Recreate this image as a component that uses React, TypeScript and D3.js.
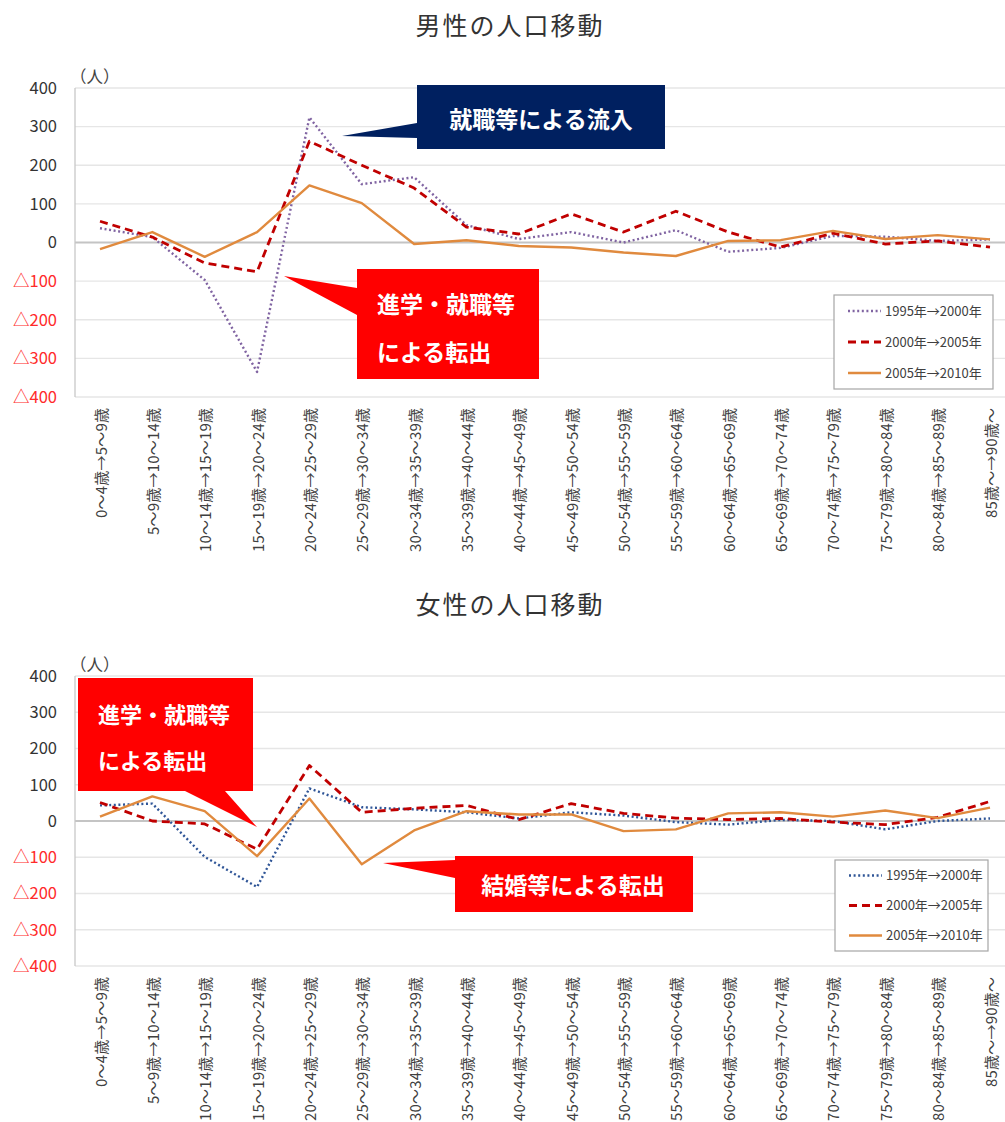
import React from 'react'
import * as d3 from 'd3'

const categories = [
  '0～4歳→5～9歳', '5～9歳→10～14歳', '10～14歳→15～19歳', '15～19歳→20～24歳',
  '20～24歳→25～29歳', '25～29歳→30～34歳', '30～34歳→35～39歳', '35～39歳→40～44歳',
  '40～44歳→45～49歳', '45～49歳→50～54歳', '50～54歳→55～59歳', '55～59歳→60～64歳',
  '60～64歳→65～69歳', '65～69歳→70～74歳', '70～74歳→75～79歳', '75～79歳→80～84歳',
  '80～84歳→85～89歳', '85歳～→90歳～',
]

const seriesNames = ['1995年→2000年', '2000年→2005年', '2005年→2010年']
const yTicks = [400, 300, 200, 100, 0, -100, -200, -300, -400]

const male1995 = [37, 14, -97, -335, 324, 151, 169, 45, 9, 27, 0, 32, -24, -14, 17, 15, 4, 8]
const male2000 = [55, 14, -53, -76, 262, 200, 141, 40, 22, 74, 27, 81, 27, -12, 24, -4, 4, -12]
const male2005 = [-17, 27, -37, 27, 148, 102, -4, 6, -9, -13, -26, -35, 4, 6, 30, 9, 19, 8]

const female1995 = [43, 48, -99, -182, 90, 38, 32, 24, 7, 24, 15, -3, -10, 3, 0, -23, 0, 7]
const female2000 = [51, 0, -8, -78, 153, 24, 35, 43, 4, 48, 21, 8, 4, 7, -3, -10, 10, 54]
const female2005 = [12, 68, 27, -97, 62, -119, -26, 27, 18, 18, -28, -23, 21, 24, 12, 29, 8, 37]

const FONT = '"Noto Sans CJK JP", "Noto Sans", sans-serif'

// width the label takes in the original (half-width digits, full-width rest)
const labelLength = (s: string) => Array.from(s).reduce((a, ch) => a + (/[0-9]/.test(ch) ? 8.5 : 15.2), 0)

type Callout = { points: [number, number][]; fill: string; size: number; lines: { text: string; x: number; y: number; anchor: string }[] }

function Chart(props: {
  title: string; titleY: number; top: number; bottom: number;
  data: number[][]; colors: string[]; legend: { x: number; y: number; w: number; h: number };
  callouts: Callout[];
}) {
  const { title, titleY, top, bottom, data, colors, legend, callouts } = props
  const x = d3.scalePoint<string>().domain(categories).range([100, 990])
  const y = d3.scaleLinear().domain([-400, 400]).range([bottom, top])
  const line = d3.line<number>().x((_, i) => x(categories[i]) as number).y(d => y(d))
  const dash = ['2 2.6', '8 5', '']
  const widths = [2.4, 2.8, 2.4]

  return (
    <g>
      <text x={510} y={titleY} textAnchor="middle" fontSize={25} letterSpacing={2} fill="#333" fontFamily={FONT}>{title}</text>
      <text x={70} y={top - 5} fontSize={16.5} fill="#444" fontFamily={FONT}>（人）</text>
      {yTicks.map(t => (
        <g key={t}>
          <line x1={75} x2={1005} y1={y(t)} y2={y(t)} stroke={t === 0 ? '#c4c4c4' : '#e6e6e6'} strokeWidth={t === 0 ? 2 : 1.3} />
          <text x={57} y={y(t)} dy="0.35em" textAnchor="end" fontSize={16.5} fontFamily={FONT}
            fill={t < 0 ? '#ff2a2a' : '#333'}>{t < 0 ? '△' + (-t) : t}</text>
        </g>
      ))}
      <line x1={75} x2={75} y1={top} y2={bottom} stroke="#c8c8c8" strokeWidth={1.3} />
      {categories.map(c => (
        <text key={c} transform={`translate(${x(c)},${bottom + 11}) rotate(-90)`} textAnchor="end"
          dominantBaseline="central" fontSize={15} textLength={labelLength(c)} lengthAdjust="spacing"
          fill="#404040" fontFamily={FONT}>{c}</text>
      ))}
      {data.map((s, i) => (
        <path key={i} d={line(s) || ''} fill="none" stroke={colors[i]} strokeWidth={widths[i]}
          strokeDasharray={dash[i]} strokeLinejoin="round" />
      ))}
      {callouts.map((c, i) => (
        <g key={i}>
          <path d={'M' + c.points.map(p => p.join(',')).join('L') + 'Z'} fill={c.fill} />
          {c.lines.map((l, j) => (
            <text key={j} x={l.x} y={l.y} dy="0.35em" textAnchor={l.anchor} fontSize={c.size} fontWeight={700}
              fill="#fff" fontFamily={FONT}>{l.text}</text>
          ))}
        </g>
      ))}
      <rect x={legend.x} y={legend.y} width={legend.w} height={legend.h} fill="#fff" stroke="#a6a6a6" strokeWidth={1.2} />
      {seriesNames.map((n, i) => {
        const ly = legend.y + legend.h * (0.17 + i * 0.33)
        return (
          <g key={n}>
            <line x1={legend.x + 14} x2={legend.x + 47} y1={ly} y2={ly} stroke={colors[i]} strokeWidth={widths[i]} strokeDasharray={dash[i]} />
            <text x={legend.x + 51} y={ly} dy="0.35em" fontSize={13} fill="#404040" fontFamily={FONT}>{n}</text>
          </g>
        )
      })}
    </g>
  )
}

export default function App() {
  const maleCallouts: Callout[] = [
    {
      points: [[417, 85], [665, 85], [665, 149], [417, 149], [417, 138], [342, 136], [417, 123]],
      fill: '#002060', size: 23,
      lines: [{ text: '就職等による流入', x: 541, y: 120, anchor: 'middle' }],
    },
    {
      points: [[357, 269], [539, 269], [539, 379], [357, 379], [357, 315], [284, 276], [357, 288]],
      fill: '#ff0000', size: 23,
      lines: [
        { text: '進学・就職等', x: 377, y: 305, anchor: 'start' },
        { text: 'による転出', x: 377, y: 353, anchor: 'start' },
      ],
    },
  ]
  const femaleCallouts: Callout[] = [
    {
      points: [[78, 678], [253, 678], [253, 791], [225, 791], [257, 827], [185, 791], [78, 791]],
      fill: '#ff0000', size: 22,
      lines: [
        { text: '進学・就職等', x: 98, y: 715, anchor: 'start' },
        { text: 'による転出', x: 98, y: 761, anchor: 'start' },
      ],
    },
    {
      points: [[455, 856], [693, 856], [693, 912], [455, 912], [455, 878], [383, 863], [455, 860]],
      fill: '#ff0000', size: 23,
      lines: [{ text: '結婚等による転出', x: 573, y: 886, anchor: 'middle' }],
    },
  ]
  return (
    <svg width={1005} height={1122} style={{ position: 'absolute', left: 0, top: 0, background: '#fff' }}>
      <Chart title="男性の人口移動" titleY={35} top={88} bottom={397}
        data={[male1995, male2000, male2005]} colors={['#8064a2', '#c00000', '#e08a3e']}
        legend={{ x: 834, y: 295, w: 159, h: 94 }} callouts={maleCallouts} />
      <Chart title="女性の人口移動" titleY={614} top={676} bottom={966}
        data={[female1995, female2000, female2005]} colors={['#2f5597', '#c00000', '#e08a3e']}
        legend={{ x: 835, y: 860, w: 153, h: 91 }} callouts={femaleCallouts} />
    </svg>
  )
}
